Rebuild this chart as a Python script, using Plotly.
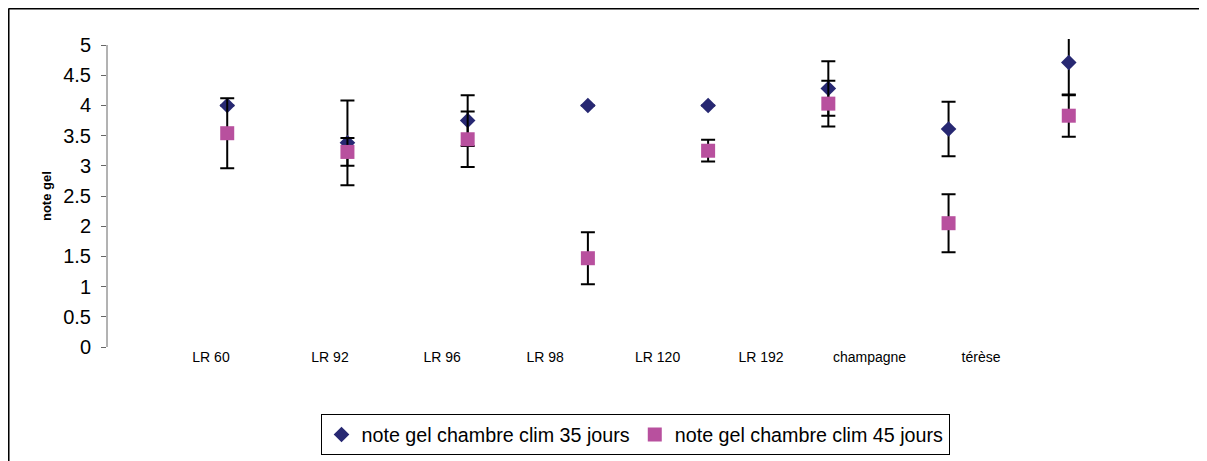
import plotly.graph_objects as go

# ---- data ----
labels = ["LR 60", "LR 92", "LR 96", "LR 98", "LR 120", "LR 192", "champagne", "térèse"]
vals_35 = [4.0, 3.38, 3.75, 4.0, 4.0, 4.28, 3.61, 4.71]
err_35 = [None, 0.70, 0.42, None, None, 0.45, 0.45, 0.54]
vals_45 = [3.54, 3.23, 3.44, 1.47, 3.25, 4.03, 2.05, 3.83]
err_45 = [0.58, 0.23, 0.46, 0.43, 0.18, 0.38, 0.48, 0.35]
series_names = ["note gel chambre clim 35 jours", "note gel chambre clim 45 jours"]
y_ticks = [0, 0.5, 1, 1.5, 2, 2.5, 3, 3.5, 4, 4.5, 5]
y_title = "note gel"

# ---- layout helpers (label placement, not data) ----
label_pos = [0.865, 1.855, 2.787, 3.644, 4.58, 5.44, 6.343, 7.27]
x_idx = list(range(1, len(vals_35) + 1))

FONT = "Liberation Sans, Arial, sans-serif"

fig = go.Figure()
fig.add_trace(go.Scatter(
    x=x_idx, y=vals_35, mode="markers", name=series_names[0],
    marker=dict(symbol="diamond", size=12, color="#272872"),
    error_y=dict(type="data", array=err_35, visible=True, color="black", thickness=2, width=7),
))
fig.add_trace(go.Scatter(
    x=x_idx, y=vals_45, mode="markers", name=series_names[1],
    marker=dict(symbol="square", size=14, color="#B8509E"),
    error_y=dict(type="data", array=err_45, visible=True, color="black", thickness=2, width=7),
))

fig.update_layout(
    width=1207, height=461,
    margin=dict(l=99, r=26, t=31, b=122),
    paper_bgcolor="white", plot_bgcolor="white",
    font=dict(family=FONT, color="black"),
    showlegend=True,
    legend=dict(
        orientation="h", x=0.488, xanchor="center", y=-0.218, yanchor="top",
        bordercolor="black", borderwidth=1, bgcolor="white",
        font=dict(size=19.7, family=FONT),
        itemclick=False,
    ),
    xaxis=dict(
        range=[0, 9], showgrid=False, zeroline=False, showline=False,
        tickmode="array", tickvals=label_pos, ticktext=labels, ticks="",
        tickfont=dict(size=14), fixedrange=True,
    ),
    yaxis=dict(
        range=[0, 5.1], showgrid=False, zeroline=False, showline=False,
        tickmode="array", tickvals=y_ticks, ticktext=[f"{v:g}" for v in y_ticks],
        ticks="outside", ticklen=5, tickcolor="#666", tickwidth=1,
        tickfont=dict(size=20), ticklabelstandoff=6,
    ),
)

# y axis line from 0 to 5 only
fig.add_shape(type="line", xref="paper", yref="y", x0=0, x1=0, y0=0, y1=5,
              line=dict(color="#666", width=1))

# outer chart border (top and left; right/bottom fall outside the view)
fig.add_shape(type="line", xref="paper", yref="paper", x0=-0.091, x1=1.02, y0=1.099, y1=1.099,
              line=dict(color="black", width=2))
fig.add_shape(type="line", xref="paper", yref="paper", x0=-0.091, x1=-0.091, y0=1.099, y1=-0.4,
              line=dict(color="black", width=2))

fig.add_annotation(text=f"<b>{y_title}</b>", xref="paper", yref="paper",
                   x=-0.0564, y=0.49, xanchor="center", yanchor="middle",
                   textangle=-90, showarrow=False,
                   font=dict(size=13, family=FONT))

fig.write_html("out.html", config={"displayModeBar": False})
